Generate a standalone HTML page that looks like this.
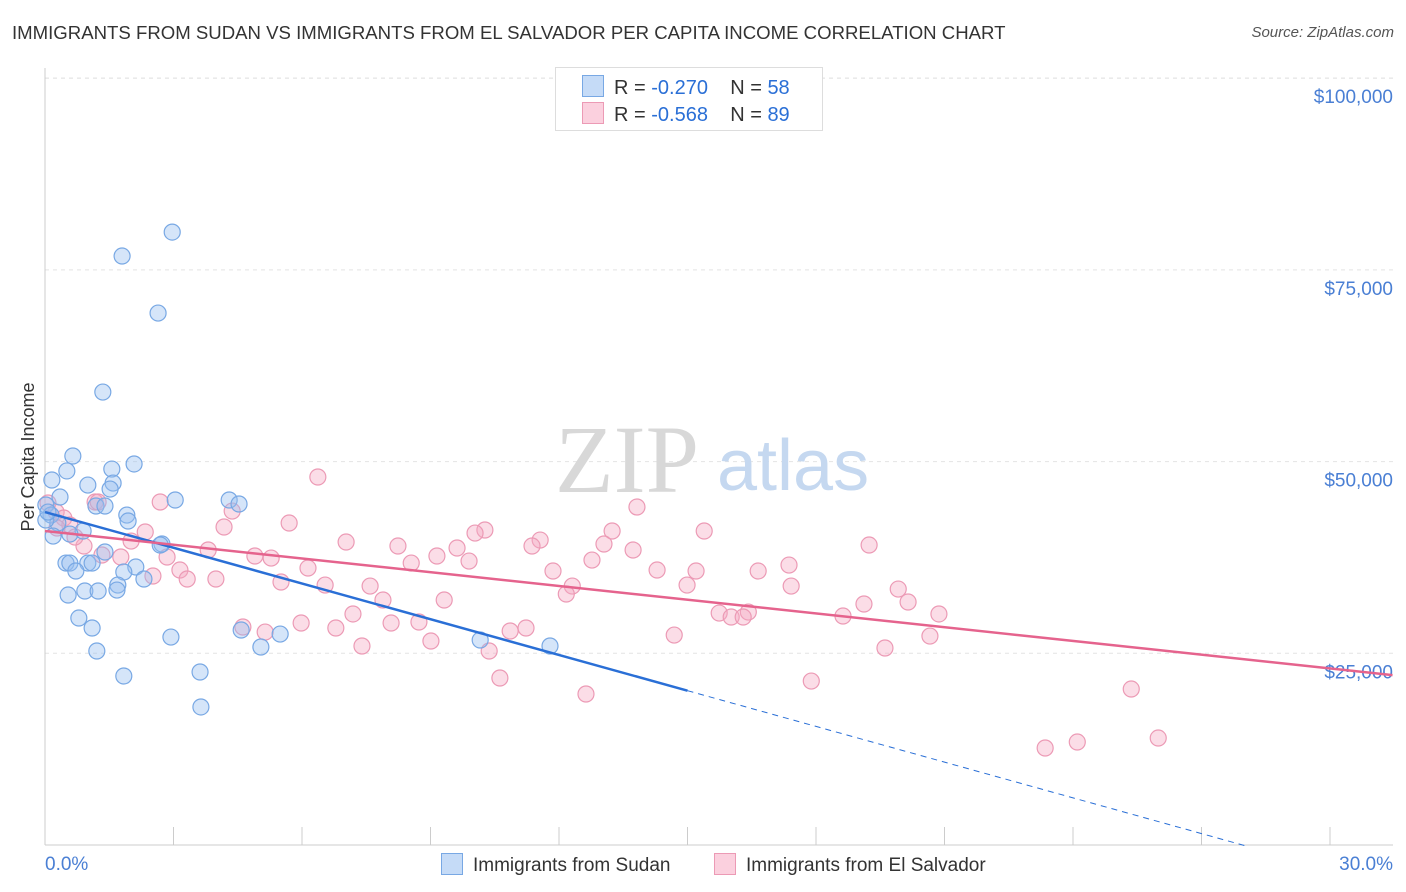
<!DOCTYPE html>
<html><head><meta charset="utf-8"><style>
body{margin:0;background:#fff;font-family:"Liberation Sans",sans-serif;}
#wrap{position:relative;width:1406px;height:892px;overflow:hidden;}
.t{position:absolute;white-space:nowrap;}
</style></head><body>
<div id="wrap">
<div class="t" style="left:12px;top:22px;font-size:18.6px;color:#333;">IMMIGRANTS FROM SUDAN VS IMMIGRANTS FROM EL SALVADOR PER CAPITA INCOME CORRELATION CHART</div>
<div class="t" style="right:12px;top:24px;font-size:15px;color:#555;font-style:italic;">Source: ZipAtlas.com</div>
<svg id="svg" width="1406" height="892" style="position:absolute;left:0;top:0"></svg>
</div>
<script>
const yTicks=[25000,50000,75000,100000];
const yTickLabels=["$25,000","$50,000","$75,000","$100,000"];
const xTickLabels=["0.0%","30.0%"];
const sudanX=[2.97,1.80,2.64,1.35,0.65,2.08,0.51,1.56,0.16,1.00,1.59,1.52,0.35,3.04,4.30,4.53,1.19,1.40,0.02,0.14,1.91,1.94,0.30,0.89,0.58,0.19,2.73,2.69,1.40,0.49,0.58,1.00,1.10,0.72,2.12,1.84,2.31,1.70,0.93,1.24,1.68,0.54,0.79,1.10,4.58,5.49,2.94,10.16,11.79,5.04,1.21,3.62,1.84,3.64,0.02,0.07];
const sudanY=[79930,76810,69370,59070,50730,49690,48780,49030,47600,46940,47200,46420,45380,44990,44990,44470,44210,44210,44340,43030,43030,42250,41990,40950,40550,40290,39250,39120,38210,36770,36770,36770,36770,35730,36250,35600,34690,33900,33120,33120,33250,32600,29600,28300,28040,27510,27120,26730,25950,25820,25300,22560,22040,18000,42380,43420];
const salvX=[6.37,2.69,13.82,1.17,0.07,5.70,4.37,0.26,0.44,0.58,4.18,10.27,10.04,15.39,13.24,11.56,7.03,8.24,11.37,19.24,9.62,13.05,13.73,2.34,3.81,4.90,5.28,9.15,2.85,1.33,1.77,12.77,9.90,8.55,6.14,11.86,3.15,14.29,15.20,3.32,2.52,3.99,17.37,16.65,5.51,6.54,7.59,12.31,17.42,19.92,14.99,12.17,7.89,9.32,20.15,19.12,7.19,15.74,16.42,16.02,16.30,18.63,20.87,5.98,8.08,8.73,4.62,5.14,6.79,10.86,11.23,14.69,9.01,20.66,7.40,10.37,19.61,10.62,17.89,12.63,25.36,23.35,24.10,25.99,1.24,0.91,0.28,0.70,2.01];
const salvY=[47990,44730,44080,44730,44600,41990,43550,43420,42640,41730,41470,41080,40680,40950,40950,39770,39510,38990,38990,39120,38730,39250,38470,40820,38470,37690,37420,37690,37560,37820,37560,37160,37030,36770,36120,35730,35860,35860,35730,34690,35080,34690,36510,35730,34300,33900,33770,33770,33770,33380,33900,32730,31950,31950,31690,31430,30130,30250,30380,29730,29730,29860,30130,28950,28950,29080,28430,27770,28300,27910,28300,27380,26600,27250,25950,25300,25690,21780,21380,19690,20340,12650,13430,13950,44730,38990,41340,40160,39640];
const sudanTrend=[43420,-1553];   // intercept, slope per %
const salvTrend=[40950,-597.4];
const NS="http://www.w3.org/2000/svg";
const svg=document.getElementById('svg');
const X=v=>45+v*1285/30;
const Y=v=>845-v*191.7/25000;
function el(t,a,p){const e=document.createElementNS(NS,t);for(const k in a)e.setAttribute(k,a[k]);(p||svg).appendChild(e);return e;}
yTicks.forEach((t,i)=>{
 const g=el('line',{x1:45,x2:1393,y1:Y(t),y2:Y(t),stroke:'#e4e4e4','stroke-dasharray':'4,4'});
 
 
 const tx=el('text',{x:1393,y:Y(t)+25,'text-anchor':'end','font-size':19,fill:'#4a7fd4','font-family':'Liberation Sans'});
 tx.textContent=yTickLabels[i];
 
 
});
const topGrid=el('line',{x1:45,x2:1393,y1:78,y2:78,stroke:'#e4e4e4','stroke-dasharray':'4,4'});


const ya=el('line',{x1:45,x2:45,y1:68,y2:845,stroke:'#ccc'});


const xa=el('line',{x1:45,x2:1393,y1:845,y2:845,stroke:'#ccc'});


for(let i=0;i<=10;i++){const tk=el('line',{x1:X(i*3),x2:X(i*3),y1:827,y2:845,stroke:'#ccc'});
 
 }
[[0,'start',45],[1,'end',1393]].forEach(([i,a,x])=>{const t=el('text',{x:x,y:870,'text-anchor':a,'font-size':19,fill:'#4a7fd4','font-family':'Liberation Sans'});t.textContent=xTickLabels[i];
 
 });
const yt=el('text',{x:34,y:457,transform:'rotate(-90 34 457)','text-anchor':'middle','font-size':18,fill:'#333','font-family':'Liberation Sans'});
yt.textContent='Per Capita Income';


const wm=el('text',{x:555,y:492,'font-size':96,fill:'#d8d8d8','font-family':'Liberation Serif'});
wm.textContent='ZIP';


const wm2=el('text',{x:717,y:490,'font-size':72,fill:'#c5d8f0','font-family':'Liberation Sans'});
wm2.textContent='atlas';


salvX.forEach((x,i)=>{const c=el('circle',{cx:X(x),cy:Y(salvY[i]),r:8,fill:'rgba(245,170,195,0.4)',stroke:'#ec9ab5','stroke-width':1.2});
 
 });
sudanX.forEach((x,i)=>{const c=el('circle',{cx:X(x),cy:Y(sudanY[i]),r:8,fill:'rgba(150,190,240,0.4)',stroke:'#78a8e4','stroke-width':1.2});
 
 });
function sf(v){return sudanTrend[0]+sudanTrend[1]*v;}
function pf(v){return salvTrend[0]+salvTrend[1]*v;}
const l1=el('line',{x1:X(0),y1:Y(sf(0)),x2:X(15),y2:Y(sf(15)),stroke:'#2a6fd6','stroke-width':2.5});


const l2=el('line',{x1:X(15),y1:Y(sf(15)),x2:X(28.0),y2:Y(sf(28.0)),stroke:'#2a6fd6','stroke-width':1,'stroke-dasharray':'6,5'});


const l3=el('line',{x1:X(0),y1:Y(pf(0)),x2:X(31.46),y2:Y(pf(31.46)),stroke:'#e5638d','stroke-width':2.5});


</script>
<div class="t" style="left:555px;top:67px;width:266px;height:62px;border:1px solid #ddd;background:#fff;"></div>
<div class="t" style="left:582px;top:75px;font-size:20px;color:#333;"><span style="display:inline-block;width:20px;height:20px;background:#c5dbf7;border:1px solid #78a8e4;vertical-align:-3px;margin-right:10px"></span>R = <span style="color:#2a6fd6">-0.270</span>&nbsp;&nbsp;&nbsp; N = <span style="color:#2a6fd6">58</span></div>
<div class="t" style="left:582px;top:102px;font-size:20px;color:#333;"><span style="display:inline-block;width:20px;height:20px;background:#fbd0de;border:1px solid #ec9ab5;vertical-align:-3px;margin-right:10px"></span>R = <span style="color:#2a6fd6">-0.568</span>&nbsp;&nbsp;&nbsp; N = <span style="color:#2a6fd6">89</span></div>
<div class="t" style="left:441px;top:853px;font-size:19px;color:#333;"><span style="display:inline-block;width:20px;height:20px;background:#c5dbf7;border:1px solid #78a8e4;vertical-align:-4px;margin-right:10px"></span>Immigrants from Sudan</div>
<div class="t" style="left:714px;top:853px;font-size:19px;color:#333;"><span style="display:inline-block;width:20px;height:20px;background:#fbd0de;border:1px solid #ec9ab5;vertical-align:-4px;margin-right:10px"></span>Immigrants from El Salvador</div>
</body></html>
